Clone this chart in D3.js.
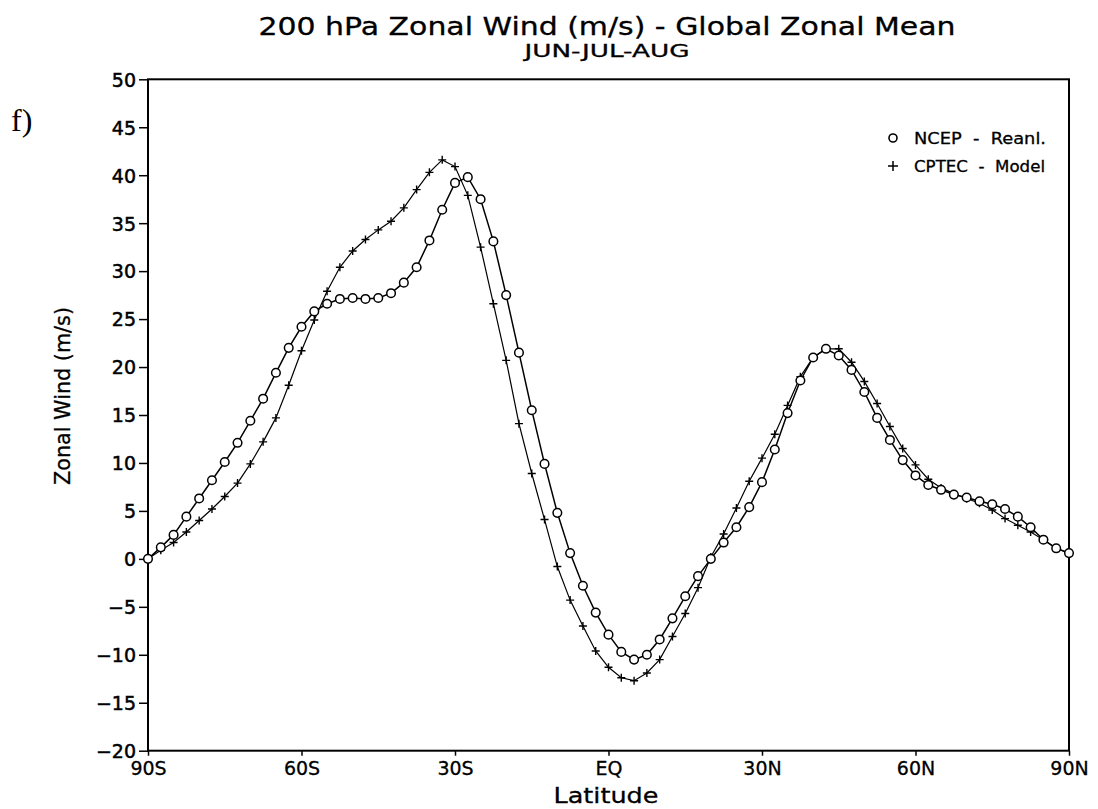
<!DOCTYPE html>
<html>
<head>
<meta charset="utf-8">
<script src="https://cdn.jsdelivr.net/npm/d3@7"></script>
<style>
  body { margin: 0; background: #fff; }
  text { font-family: "DejaVu Sans", sans-serif; fill: #000; }
</style>
</head>
<body>
<script>
// latitude every 2.5 deg, 90S..90N
var lats = [-90, -87.5, -85, -82.5, -80, -77.5, -75, -72.5, -70, -67.5,
    -65, -62.5, -60, -57.5, -55, -52.5, -50, -47.5, -45, -42.5,
    -40, -37.5, -35, -32.5, -30, -27.5, -25, -22.5, -20, -17.5,
    -15, -12.5, -10, -7.5, -5, -2.5, 0, 2.5, 5, 7.5,
    10, 12.5, 15, 17.5, 20, 22.5, 25, 27.5, 30, 32.5,
    35, 37.5, 40, 42.5, 45, 47.5, 50, 52.5, 55, 57.5,
    60, 62.5, 65, 67.5, 70, 72.5, 75, 77.5, 80, 82.5,
    85, 87.5, 90];

var ncep = [0.0, 1.2, 2.5, 4.4, 6.3, 8.2, 10.1, 12.1, 14.4, 16.7,
    19.4, 22.0, 24.2, 25.8, 26.6, 27.1, 27.2, 27.1, 27.2, 27.7,
    28.8, 30.4, 33.2, 36.4, 39.2, 39.8, 37.5, 33.1, 27.5, 21.5,
    15.5, 9.9, 4.8, 0.6, -2.8, -5.6, -7.9, -9.7, -10.5, -10.0,
    -8.4, -6.2, -3.9, -1.8, 0.0, 1.7, 3.3, 5.4, 8.0, 11.4,
    15.2, 18.6, 21.0, 21.9, 21.2, 19.7, 17.4, 14.7, 12.4, 10.3,
    8.7, 7.7, 7.2, 6.7, 6.4, 6.0, 5.7, 5.2, 4.4, 3.3,
    2.0, 1.1, 0.6];

var cptec = [0.0, 0.9, 1.7, 2.8, 4.0, 5.2, 6.5, 7.9, 9.9, 12.2,
    14.7, 18.1, 21.7, 24.9, 27.9, 30.4, 32.1, 33.3, 34.3, 35.2,
    36.6, 38.5, 40.3, 41.6, 40.9, 37.9, 32.5, 26.6, 20.7, 14.1,
    8.9, 4.1, -0.8, -4.3, -7.0, -9.6, -11.3, -12.4, -12.7, -11.9,
    -10.5, -8.1, -5.7, -3.0, 0.2, 2.6, 5.3, 8.1, 10.5, 13.0,
    16.0, 19.0, 21.0, 21.9, 21.9, 20.5, 18.5, 16.2, 13.8, 11.5,
    9.8, 8.3, 7.4, 6.8, 6.3, 5.8, 5.1, 4.2, 3.5, 2.8,
    2.0, 1.1, 0.6];

var xTicks = [-90, -60, -30, 0, 30, 60, 90];
var xTickLabels = ["90S", "60S", "30S", "EQ", "30N", "60N", "90N"];
var yTicks = [-20, -15, -10, -5, 0, 5, 10, 15, 20, 25, 30, 35, 40, 45, 50];
var legendNames = ["NCEP  -  Reanl.", "CPTEC  -  Model"];

var pLeft = 148, pRight = 1069, pTop = 79.3, pBottom = 750.7;

var canvas = d3.select("body")
    .append("svg")
    .attr("width", 1098)
    .attr("height", 809);

var x = d3.scaleLinear().domain([-90, 90]).range([pLeft, pRight]);
var y = d3.scaleLinear().domain([-20, 50]).range([pBottom, pTop]);

// frame
canvas.append("rect")
    .attr("x", pLeft)
    .attr("y", pTop)
    .attr("width", pRight - pLeft)
    .attr("height", pBottom - pTop)
    .attr("fill", "none")
    .attr("stroke", "#000")
    .attr("stroke-width", 2);

// axes
var yAxis = d3.axisLeft(y)
    .tickValues(yTicks)
    .tickSize(9)
    .tickPadding(3)
    .tickFormat(d3.format("d"));

var gy = canvas.append("g")
    .attr("transform", "translate(" + pLeft + ",0)")
    .call(yAxis);
gy.select(".domain").remove();
gy.selectAll("line").attr("stroke", "#000").attr("stroke-width", 1.5);
gy.selectAll("text")
    .style("font-family", "DejaVu Sans")
    .style("font-size", "19px")
    .attr("stroke", "#000")
    .attr("stroke-width", 0.5)
    .attr("dy", "0.36em");

var xAxis = d3.axisBottom(x)
    .tickValues(xTicks)
    .tickSize(5)
    .tickPadding(6)
    .tickFormat(function (d, i) { return xTickLabels[i]; });

var gx = canvas.append("g")
    .attr("transform", "translate(0," + pBottom + ")")
    .call(xAxis);
gx.select(".domain").remove();
gx.selectAll("line").attr("stroke", "#000").attr("stroke-width", 1.5);
gx.selectAll("text")
    .style("font-family", "DejaVu Sans")
    .style("font-size", "19px")
    .attr("stroke", "#000")
    .attr("stroke-width", 0.3);

// lines
var ptsN = lats.map(function (d, i) { return {lat: d, v: ncep[i]}; });
var ptsC = lats.map(function (d, i) { return {lat: d, v: cptec[i]}; });

var line = d3.line()
    .x(function (d) { return x(d.lat); })
    .y(function (d) { return y(d.v); });

canvas.append("path")
    .datum(ptsC)
    .attr("d", line)
    .attr("fill", "none")
    .attr("stroke", "#000")
    .attr("stroke-width", 1.2);

canvas.append("path")
    .datum(ptsN)
    .attr("d", line)
    .attr("fill", "none")
    .attr("stroke", "#000")
    .attr("stroke-width", 1.5);

// plus markers
canvas.append("g")
    .selectAll("path")
    .data(ptsC)
    .enter()
        .append("path")
        .attr("d", function (d) {
            var cx = x(d.lat), cy = y(d.v);
            return "M" + (cx - 4) + "," + cy + "H" + (cx + 4) +
                "M" + cx + "," + (cy - 4) + "V" + (cy + 4);
        })
        .attr("stroke", "#000")
        .attr("stroke-width", 1.4);

// circle markers
canvas.append("g")
    .selectAll("circle")
    .data(ptsN)
    .enter()
        .append("circle")
        .attr("cx", function (d) { return x(d.lat); })
        .attr("cy", function (d) { return y(d.v); })
        .attr("r", 4.3)
        .attr("fill", "#fff")
        .attr("stroke", "#000")
        .attr("stroke-width", 1.5);

// legend
var leg = canvas.append("g").attr("transform", "translate(893,138)");
leg.append("circle")
    .attr("cx", 0).attr("cy", 0).attr("r", 4)
    .attr("fill", "#fff").attr("stroke", "#000").attr("stroke-width", 1.6);
leg.append("path")
    .attr("d", "M-5,28H5M0,23V33")
    .attr("stroke", "#000").attr("stroke-width", 1.5);
leg.selectAll("text")
    .data(legendNames)
    .enter()
        .append("text")
        .attr("x", 21)
        .attr("y", function (d, i) { return i * 28 + 6; })
        .attr("textLength", function (d, i) { return i === 0 ? 132 : 131; })
        .attr("lengthAdjust", "spacingAndGlyphs")
        .attr("stroke", "#000")
        .attr("stroke-width", 0.3)
        .style("white-space", "pre")
        .style("font-size", "15.5px")
        .text(function (d) { return d; });

// titles
canvas.append("text")
    .attr("x", 607)
    .attr("y", 35)
    .attr("text-anchor", "middle")
    .attr("textLength", 697)
    .attr("lengthAdjust", "spacingAndGlyphs")
    .attr("stroke", "#000")
    .attr("stroke-width", 0.3)
    .style("font-size", "24px")
    .text("200 hPa Zonal Wind (m/s) - Global Zonal Mean");

canvas.append("text")
    .attr("x", 607)
    .attr("y", 57)
    .attr("text-anchor", "middle")
    .attr("textLength", 165)
    .attr("lengthAdjust", "spacingAndGlyphs")
    .attr("stroke", "#000")
    .attr("stroke-width", 0.3)
    .style("font-size", "18px")
    .text("JUN-JUL-AUG");

canvas.append("text")
    .attr("x", 606)
    .attr("y", 803)
    .attr("text-anchor", "middle")
    .attr("textLength", 105)
    .attr("lengthAdjust", "spacingAndGlyphs")
    .attr("stroke", "#000")
    .attr("stroke-width", 0.3)
    .style("font-size", "22px")
    .text("Latitude");

canvas.append("text")
    .attr("transform", "translate(70,396) rotate(-90)")
    .attr("text-anchor", "middle")
    .attr("textLength", 178)
    .attr("lengthAdjust", "spacingAndGlyphs")
    .attr("stroke", "#000")
    .attr("stroke-width", 0.3)
    .style("font-size", "21px")
    .text("Zonal Wind (m/s)");

canvas.append("text")
    .attr("x", 11)
    .attr("y", 131)
    .style("font-family", "Liberation Serif")
    .style("font-size", "32px")
    .text("f)");
</script>
</body>
</html>
